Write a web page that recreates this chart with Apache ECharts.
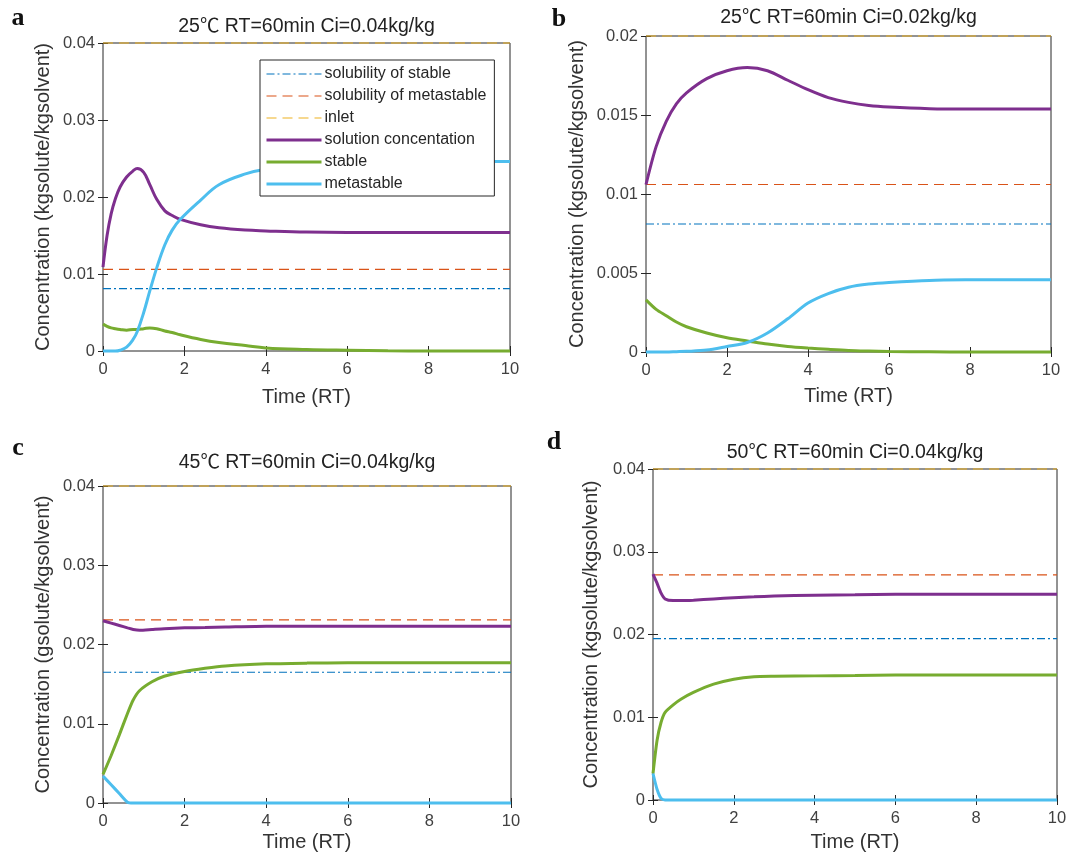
<!DOCTYPE html>
<html>
<head>
<meta charset="utf-8">
<script src="https://cdn.jsdelivr.net/npm/echarts@6/dist/echarts.min.js"></script>
<style>
  html, body { margin: 0; padding: 0; background: #fff; }
  #chart { width: 1072px; height: 863px; }
</style>
</head>
<body>
<div id="chart"></div>
<script>
// ---- data ----------------------------------------------------------------
const seriesNames = ['solubility of stable', 'solubility of metastable', 'inlet',
                     'solution concentation', 'stable', 'metastable'];
const panelLetters = ['a', 'b', 'c', 'd'];
const panelTitles = ['25\u2103 RT=60min Ci=0.04kg/kg', '25\u2103 RT=60min Ci=0.02kg/kg',
                     '45\u2103 RT=60min Ci=0.04kg/kg', '50\u2103 RT=60min Ci=0.04kg/kg'];
const yAxisNames = ['Concentration (kgsolute/kgsolvent)', 'Concentration (kgsolute/kgsolvent)',
                    'Concentration (gsolute/kgsolvent)', 'Concentration (kgsolute/kgsolvent)'];
const xAxisName = 'Time (RT)';
const timeRange = [0, 10];
const timeStep = 2;
const concMax = [0.04, 0.02, 0.04, 0.04];
const concStep = [0.01, 0.005, 0.01, 0.01];

// horizontal reference levels per panel
const solubilityStable = [0.0081, 0.0081, 0.0165, 0.0195];
const solubilityMetastable = [0.0106, 0.0106, 0.0231, 0.0272];
const inletConc = [0.04, 0.02, 0.04, 0.04];

// panel a: 25 C, Ci = 0.04
const timeA = [0, 0.1, 0.2, 0.3, 0.42, 0.58, 0.74, 0.84, 1.0, 1.15, 1.32, 1.52, 1.7, 1.9,
               2.4, 2.85, 3.5, 4, 5, 6, 7, 8, 9, 10];
const solutionA = [0.0109, 0.0150, 0.0178, 0.0197, 0.0213, 0.0226, 0.0234, 0.0237, 0.0232, 0.0216, 0.0197,
                   0.0182, 0.0176, 0.0171, 0.0164, 0.0160, 0.0157, 0.0156, 0.01545, 0.0154, 0.0154,
                   0.0154, 0.0154, 0.0154];
const stableA = [0.0035, 0.0032, 0.0030, 0.0029, 0.0028, 0.0027, 0.0028, 0.0028, 0.0029, 0.0030, 0.0029,
                 0.0026, 0.0024, 0.0021, 0.0015, 0.0011, 0.0007, 0.0004, 0.0002, 0.0001, 0.00003, 0, 0, 0];
const metastableA = [0, 0, 0, 0, 0.0001, 0.0005, 0.0015, 0.0025, 0.0050, 0.0078, 0.0108, 0.0138, 0.0157,
                     0.0171, 0.0196, 0.0216, 0.0230, 0.0236, 0.0242, 0.0244, 0.0245, 0.0246, 0.0246, 0.0246];

// panel b: 25 C, Ci = 0.02
const timeB = [0, 0.25, 0.5, 0.75, 1, 1.5, 2, 2.5, 3, 3.5, 4, 4.5, 5, 5.5, 6, 7, 8, 9, 10];
const solutionB = [0.0106, 0.0130, 0.0146, 0.0157, 0.0164, 0.0173, 0.0178, 0.0180, 0.0178, 0.0172, 0.0166,
                   0.0161, 0.0158, 0.0156, 0.0155, 0.0154, 0.01538, 0.01538, 0.01538];
const stableB = [0.0033, 0.0027, 0.0023, 0.0019, 0.0016, 0.0012, 0.0009, 0.0007, 0.0005, 0.00035, 0.00025,
                 0.00017, 0.0001, 0.00006, 0.00003, 0.00001, 0, 0, 0];
const metastableB = [0, 0, 0, 0.00002, 0.00004, 0.00012, 0.00035, 0.0006, 0.0012, 0.0021, 0.0031,
                     0.0037, 0.0041, 0.0043, 0.0044, 0.00453, 0.00457, 0.00458, 0.00458];

// panel c: 45 C, Ci = 0.04
const timeC = [0, 0.2, 0.4, 0.6, 0.74, 0.9, 1.2, 1.5, 2, 2.5, 3, 4, 5, 6, 7, 8, 9, 10];
const solutionC = [0.0230, 0.0227, 0.0224, 0.0221, 0.0219, 0.0218, 0.0219, 0.0220, 0.0221, 0.02215, 0.0222,
                   0.0223, 0.0223, 0.0223, 0.0223, 0.0223, 0.0223, 0.0223];
const stableC = [0.0036, 0.0060, 0.0086, 0.0113, 0.0130, 0.0142, 0.0153, 0.0160, 0.0166, 0.0170, 0.0173,
                 0.01756, 0.01765, 0.0177, 0.0177, 0.0177, 0.0177, 0.0177];
const metastableC = [0.0034, 0.0023, 0.0012, 0.0001, 0, 0, 0, 0, 0, 0, 0, 0, 0, 0, 0, 0, 0, 0];

// panel d: 50 C, Ci = 0.04
const timeD = [0, 0.1, 0.2, 0.3, 0.5, 0.7, 1, 1.5, 2, 2.5, 3, 4, 5, 6, 7, 8, 9, 10];
const solutionD = [0.0273, 0.0262, 0.0250, 0.0243, 0.0241, 0.0241, 0.02415, 0.0243, 0.02445, 0.02455, 0.02465,
                   0.02475, 0.0248, 0.02485, 0.02485, 0.02485, 0.02485, 0.02485];
const stableD = [0.0032, 0.0072, 0.0094, 0.0106, 0.0115, 0.0122, 0.0130, 0.0140, 0.0146, 0.0149, 0.01495,
                 0.0150, 0.01505, 0.0151, 0.0151, 0.0151, 0.0151, 0.0151];
const metastableD = [0.0032, 0.0013, 0.0002, 0, 0, 0, 0, 0, 0, 0, 0, 0, 0, 0, 0, 0, 0, 0];

const panelTimes = [timeA, timeB, timeC, timeD];
const panelSolution = [solutionA, solutionB, solutionC, solutionD];
const panelStable = [stableA, stableB, stableC, stableD];
const panelMetastable = [metastableA, metastableB, metastableC, metastableD];

// ---- layout & style ----------------------------------------------------------
const FONT = '"Liberation Sans", Arial, "Noto Sans CJK SC", sans-serif';
const INK = '#262626';
const colors = ['#0072BD', '#D95319', '#EDB120', '#7E2F8E', '#77AC30', '#4DBEEE'];

// plot rectangles: [left, top, right, bottom]
const boxes = [
  [103, 43, 510, 351],
  [646, 36, 1051, 352],
  [103, 486, 511, 803],
  [653, 469, 1057, 800]
];
const titleY = [27, 18, 463, 453];
const yNameGap = [50, 59, 50, 52];
const xNameGap = [36, 34, 29, 32];
const letterPos = [[18, 18], [559, 19], [18, 448], [554, 442]];
const smoothing = [0.4, 0.3, 0.2, 0.2];

const fmt = v => String(parseFloat(v.toFixed(4)));
const pairs = (xs, ys) => xs.map((x, i) => [x, ys[i]]);
const level = v => [[timeRange[0], v], [timeRange[1], v]];

const grids = [], xAxes = [], yAxes = [], series = [], graphics = [];

boxes.forEach((b) => {
  grids.push({
    left: b[0], top: b[1], width: b[2] - b[0], height: b[3] - b[1],
    show: true, borderColor: INK, borderWidth: 1, backgroundColor: '#fff', containLabel: false
  });
});

const tickStyle = { show: true, inside: true, length: 5, lineStyle: { color: INK, width: 1 } };

// bottom / left axes carry labels; top / right axes only mirror the ticks
boxes.forEach((b, i) => {
  xAxes.push({
    type: 'value', gridIndex: i, position: 'bottom',
    min: timeRange[0], max: timeRange[1], interval: timeStep,
    axisLine: { show: false }, splitLine: { show: false }, axisTick: tickStyle,
    axisLabel: { color: '#404040', fontSize: 16.5, fontFamily: FONT, margin: 10, formatter: fmt,
                 showMinLabel: true, showMaxLabel: true },
    name: xAxisName, nameLocation: 'middle', nameGap: xNameGap[i],
    nameTextStyle: { color: '#333', fontSize: 20, fontFamily: FONT }
  });
  yAxes.push({
    type: 'value', gridIndex: i, position: 'left',
    min: 0, max: concMax[i], interval: concStep[i],
    axisLine: { show: false }, splitLine: { show: false }, axisTick: tickStyle,
    axisLabel: { color: '#404040', fontSize: 16.5, fontFamily: FONT, margin: 8, formatter: fmt,
                 showMinLabel: true, showMaxLabel: true },
    name: yAxisNames[i], nameLocation: 'middle', nameGap: yNameGap[i],
    nameTextStyle: { color: '#333', fontSize: 20, fontFamily: FONT }
  });
});
boxes.forEach((b, i) => {
  xAxes.push({
    type: 'value', gridIndex: i, position: 'top',
    min: timeRange[0], max: timeRange[1], interval: timeStep,
    axisLine: { show: false }, splitLine: { show: false }, axisTick: tickStyle, axisLabel: { show: false }
  });
  yAxes.push({
    type: 'value', gridIndex: i, position: 'right',
    min: 0, max: concMax[i], interval: concStep[i],
    axisLine: { show: false }, splitLine: { show: false }, axisTick: tickStyle, axisLabel: { show: false }
  });
});

const lineStyles = [
  { width: 1.2, type: [8, 3, 2, 3] },
  { width: 1.2, type: [10, 6] },
  { width: 1.2, type: [10, 6] },
  { width: 3 },
  { width: 3 },
  { width: 3 }
];

boxes.forEach((b, i) => {
  const t = panelTimes[i];
  const dataSets = [
    level(solubilityStable[i]),
    level(solubilityMetastable[i]),
    level(inletConc[i]),
    pairs(t, panelSolution[i]),
    pairs(t, panelStable[i]),
    pairs(t, panelMetastable[i])
  ];
  dataSets.forEach((d, k) => {
    series.push({
      name: seriesNames[k], type: 'line', xAxisIndex: i, yAxisIndex: i,
      data: d, symbol: 'none', showSymbol: false, clip: false,
      smooth: k >= 3 ? smoothing[i] : false,
      silent: true, animation: false,
      lineStyle: Object.assign({ color: colors[k] }, lineStyles[k]),
      itemStyle: { color: colors[k] }
    });
  });
});

boxes.forEach((b, i) => {
  graphics.push({
    type: 'text', x: (b[0] + b[2]) / 2, y: titleY[i], z: 10,
    style: { text: panelTitles[i], fill: '#222', fontSize: 19.5, fontFamily: FONT,
             align: 'center', verticalAlign: 'middle' }
  });
  graphics.push({
    type: 'text', x: letterPos[i][0], y: letterPos[i][1], z: 10,
    style: { text: panelLetters[i], fill: '#111', fontSize: 26, fontWeight: 'bold',
             fontFamily: '"Liberation Serif", "Times New Roman", serif',
             align: 'center', verticalAlign: 'middle' }
  });
});

const legendItems = seriesNames.map((n, k) => ({
  name: n,
  lineStyle: { color: colors[k], width: lineStyles[k].width, type: lineStyles[k].type || 'solid' },
  itemStyle: { opacity: 0 }
}));

const chart = echarts.init(document.getElementById('chart'), null, { renderer: 'canvas' });
chart.setOption({
  backgroundColor: '#fff',
  animation: false,
  grid: grids,
  xAxis: xAxes,
  yAxis: yAxes,
  legend: {
    data: legendItems, orient: 'vertical', left: 260, top: 60,
    itemWidth: 55, itemHeight: 12, itemGap: 6,
    padding: [6, 8, 4, 5],
    backgroundColor: '#fff', borderColor: INK, borderWidth: 1, borderRadius: 0,
    selectedMode: false, z: 5,
    itemStyle: { opacity: 0 },
    textStyle: { color: '#262626', fontSize: 16, fontFamily: FONT, padding: [0, 0, 0, -2] }
  },
  series: series,
  graphic: graphics
});
</script>
</body>
</html>
